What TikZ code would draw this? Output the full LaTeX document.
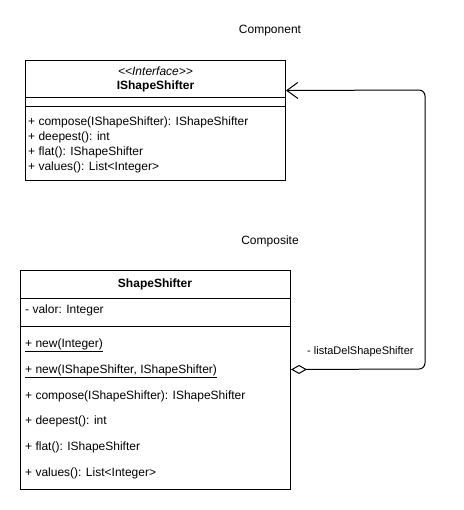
\documentclass[tikz,border=0pt]{standalone}
\usepackage{fontspec}
\setmainfont{Liberation Sans}
\usetikzlibrary{arrows.meta,calc}
\begin{document}
\begin{tikzpicture}[x=1pt,y=-1pt,
  every node/.style={font=\fontsize{12}{14}\selectfont, inner sep=0pt},
  umlbox/.style={draw, line width=1pt, anchor=north west},
  member/.style={anchor=west},
  sep/.style={line width=1pt},
  conn/.style={line width=1pt, rounded corners=6pt}
]
\useasboundingbox (0,0) rectangle (463,510);
% labels
\node (comp) at (270,31) {Component};
\node (compo) at (270,241) {Composite};
% interface box
\node[umlbox, minimum width=260pt, minimum height=120pt] (iface) at (25,60) {};
\node (ster) at (155.5,71) {\itshape {<}{<}Interface{>}{>}};
\node (iname) at (155.5,86) {\bfseries IShapeShifter};
\draw[sep] (iface.west |- 0,98) -- (iface.east |- 0,98);
\draw[sep] (iface.west |- 0,107) -- (iface.east |- 0,107);
\node[member] (i1) at (28,122) {+ compose(IShapeShifter): IShapeShifter};
\node[member] (i2) at (28,137) {+ deepest(): int};
\node[member] (i3) at (28,152) {+ flat(): IShapeShifter};
\node[member] (i4) at (28,167) {+ values(): List<Integer>};
% shapeshifter box
\node[umlbox, minimum width=270pt, minimum height=219pt] (ss) at (20,270) {};
\node (sname) at (155,284) {\bfseries ShapeShifter};
\draw[sep] (ss.west |- 0,298) -- (ss.east |- 0,298);
\node[member] (a1) at (25,310) {- valor: Integer};
\draw[sep] (ss.west |- 0,326) -- (ss.east |- 0,326);
\node[member] (m1) at (25,345) {\underline{+ new(Integer)}};
\node[member] (m2) at (25,371) {\underline{+ new(IShapeShifter, IShapeShifter)}};
\node[member] (m3) at (25,396) {+ compose(IShapeShifter): IShapeShifter};
\node[member] (m4) at (25,421) {+ deepest(): int};
\node[member] (m5) at (25,447) {+ flat(): IShapeShifter};
\node[member] (m6) at (25,473) {+ values(): List<Integer>};
% connector
\coordinate (c1) at (425,369);
\coordinate (c2) at (425,90);
\draw[conn, {Diamond[open,length=16pt,width=9pt,line width=1pt]}-{Straight Barb[length=11pt,width=16pt,line width=1pt]}]
  ([yshift=10.5pt]ss.east) -- (c1) -- (c2) -- ([yshift=30pt]iface.east);
\node[anchor=west, font=\fontsize{11}{13}\selectfont] (lbl) at (307,352) {- listaDelShapeShifter};
\end{tikzpicture}
\end{document}
